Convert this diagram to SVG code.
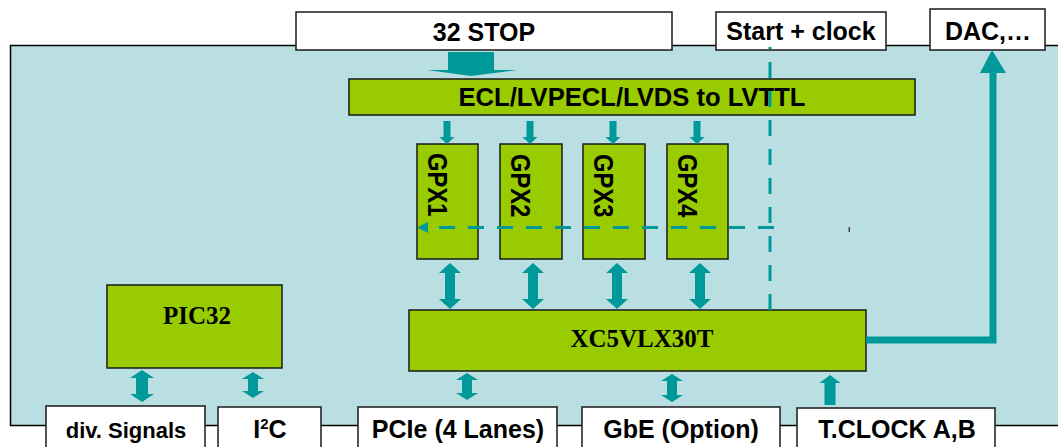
<svg xmlns="http://www.w3.org/2000/svg" width="1058" height="447" viewBox="0 0 1058 447">
<style>
.bg{fill:#BADFE2;stroke:#000;stroke-width:1.5}
.g{fill:#99CC00;stroke:#1a1a1a;stroke-width:1.5}
.w{fill:#fff;stroke:#1a1a1a;stroke-width:1.5}
.t{font-family:"Liberation Sans",Arial,sans-serif;font-weight:bold;font-size:25px;fill:#000;text-anchor:middle}
.s{font-family:"Liberation Serif","Times New Roman",serif;font-weight:bold;font-size:25px;fill:#000;text-anchor:middle}
.v{font-family:"Liberation Sans",Arial,sans-serif;font-weight:bold;font-size:28px;fill:#000}
.a{fill:#009999;stroke:none}
.d{fill:none;stroke:#009999;stroke-width:3;stroke-dasharray:16 13}
.k{fill:none;stroke:#009999;stroke-width:7}
</style>
<defs>
<marker id="ah" viewBox="0 0 11 11" refX="0" refY="5.5" markerWidth="11" markerHeight="11" markerUnits="userSpaceOnUse" orient="auto">
<path d="M0,0 L11,5.5 L0,11 Z" fill="#009999"/>
</marker>
</defs>
<rect class="bg" x="10.5" y="45.5" width="1070" height="380"/>
<g id="stop"><rect class="w" x="296" y="12" width="376" height="38"/><text class="t" x="484" y="41">32 STOP</text></g>
<g id="startclock"><rect class="w" x="716" y="12" width="170" height="38"/><text class="t" x="801" y="40">Start + clock</text></g>
<g id="dac"><rect class="w" x="930" y="9" width="115" height="41"/><text class="t" x="988" y="40">DAC,…</text></g>
<g id="ecl"><rect class="g" x="349" y="79" width="566" height="36"/><text class="t" x="632" y="106" style="font-size:25.6px">ECL/LVPECL/LVDS to LVTTL</text></g>
<g id="gpx1"><rect class="g" x="417" y="144" width="61" height="115"/><text class="v" transform="translate(428,153) rotate(90) scale(0.85,1)">GPX1</text></g>
<g id="gpx2"><rect class="g" x="500" y="144" width="62" height="115"/><text class="v" transform="translate(511,154) rotate(90) scale(0.85,1)">GPX2</text></g>
<g id="gpx3"><rect class="g" x="583" y="144" width="62" height="115"/><text class="v" transform="translate(594,154) rotate(90) scale(0.85,1)">GPX3</text></g>
<g id="gpx4"><rect class="g" x="667" y="144" width="61" height="115"/><text class="v" transform="translate(678,154) rotate(90) scale(0.85,1)">GPX4</text></g>
<g id="fpga"><rect class="g" x="409" y="310" width="457" height="61"/><text class="s" x="642" y="347">XC5VLX30T</text></g>
<g id="pic"><rect class="g" x="107" y="285" width="175" height="83"/><text class="s" x="197" y="324">PIC32</text></g>
<g id="divsig"><rect class="w" x="46" y="406" width="159" height="55"/><text class="t" x="126" y="438" style="font-size:22px">div. Signals</text></g>
<g id="i2c"><rect class="w" x="218" y="407" width="103" height="55"/><text class="t" x="270" y="438">I<tspan dy="-9" style="font-size:15px">2</tspan><tspan dy="9">C</tspan></text></g>
<g id="pcie"><rect class="w" x="358" y="407" width="199" height="55"/><text class="t" x="458" y="438">PCIe (4 Lanes)</text></g>
<g id="gbe"><rect class="w" x="582" y="407" width="198" height="55"/><text class="t" x="681" y="438">GbE (Option)</text></g>
<g id="tclock"><rect class="w" x="797" y="408" width="198" height="55"/><text class="t" x="897" y="438">T.CLOCK A,B</text></g>
<g id="connectors">
<polygon class="a" points="448,52 494,52 494,70 517,70 471,76 427,70 448,70"/>
<polygon class="a" points="443.5,121 450.5,121 450.5,137 454.5,137 447,144 439.5,137 443.5,137"/>
<polygon class="a" points="526.5,121 533.5,121 533.5,137 537.5,137 530,144 522.5,137 526.5,137"/>
<polygon class="a" points="609.5,121 616.5,121 616.5,137 620.5,137 613,144 605.5,137 609.5,137"/>
<polygon class="a" points="693.5,121 700.5,121 700.5,137 704.5,137 697,144 689.5,137 693.5,137"/>
<polygon class="a" points="450,263 461,273 455,273 455,299 461,299 450,309 439,299 445,299 445,273 439,273"/>
<polygon class="a" points="533,263 544,273 538,273 538,299 544,299 533,309 522,299 528,299 528,273 522,273"/>
<polygon class="a" points="617,263 628,273 622,273 622,299 628,299 617,309 606,299 612,299 612,273 606,273"/>
<polygon class="a" points="700,263 711,273 705,273 705,299 711,299 700,309 689,299 695,299 695,273 689,273"/>
<polygon class="a" points="142,370 154,378 148,378 148,394 154,394 142,402 130,394 136,394 136,378 130,378"/>
<polygon class="a" points="253,372 264,379 258,379 258,391 264,391 253,398 242,391 248,391 248,379 242,379"/>
<polygon class="a" points="467,373 478,380 472,380 472,393 478,393 467,400 456,393 462,393 462,380 456,380"/>
<polygon class="a" points="672,374 683,381 677,381 677,395 683,395 672,402 661,395 667,395 667,381 661,381"/>
<polygon class="a" points="830,375 840.5,383 835.5,383 835.5,405 824.5,405 824.5,383 819.5,383"/>
<path class="d" d="M770,47 V310" stroke-dashoffset="14"/>
<path class="d" d="M774,227.5 H428" marker-end="url(#ah)"/>
<polyline class="k" points="866,340 993,340 993,72"/>
<polygon class="a" points="980,73 1006,73 992,50"/>
</g>
<rect x="848.5" y="227" width="1.5" height="5" fill="#444"/>
</svg>
